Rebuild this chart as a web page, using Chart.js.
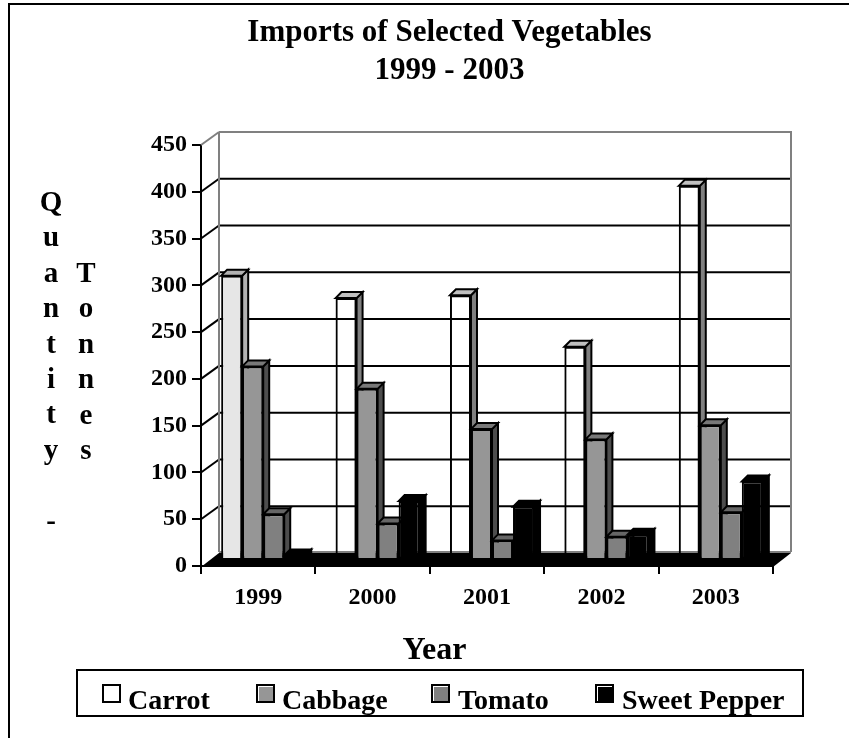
<!DOCTYPE html>
<html>
<head>
<meta charset="utf-8">
<title>Imports of Selected Vegetables</title>
<script src="https://cdn.jsdelivr.net/npm/chart.js@4"></script>
<style>
    html, body { margin: 0; padding: 0; background: #fff; }
    canvas { display: block; }
</style>
</head>
<body>
<canvas id="chart" width="849" height="738"></canvas>
<script>
const years = ['1999', '2000', '2001', '2002', '2003']
const carrot = [305, 281, 284, 229, 401]
const cabbage = [208, 184, 141, 130, 145]
const tomato = [50, 40, 22, 26, 52]
const sweetPepper = [6, 64, 58, 28, 85]

const seriesNames = ['Carrot', 'Cabbage', 'Tomato', 'Sweet Pepper']
const titleLines = ['Imports of Selected Vegetables', '1999 - 2003']
const yTitleLeft = ['Q', 'u', 'a', 'n', 't', 'i', 't', 'y', '', '-']
const yTitleRight = ['T', 'o', 'n', 'n', 'e', 's']
const xTitle = 'Year'

const FONT = '"Liberation Serif", "Times New Roman", serif'

// colours of each series: front, top, side
const faces = [
    {front: 'rgba(0,0,0,0)', top: '#c0c0c0', side: '#808080'},
    {front: '#969696', top: '#787878', side: '#4d4d4d'},
    {front: '#808080', top: '#666666', side: '#4d4d4d'},
    {front: '#000000', top: '#000000', side: '#000000'}
]
const firstCarrot = {front: '#e6e6e6', top: '#b2b2b2', side: '#b2b2b2'}

// depth of the wall behind the plot, and where the bars stand on the floor
const wallX = 18
const wallY = 13
const barShiftX = 5
const barShiftY = -5
const barDepthX = 6
const barDepthY = 6

function poly(ctx, pts, fill, stroke, width) {
    ctx.beginPath()
    pts.forEach((p, i) => i ? ctx.lineTo(p[0], p[1]) : ctx.moveTo(p[0], p[1]))
    ctx.closePath()
    if (fill) {
        ctx.fillStyle = fill
        ctx.fill()
    }
    if (stroke) {
        ctx.strokeStyle = stroke
        ctx.lineWidth = width
        ctx.stroke()
    }
}

function line(ctx, x1, y1, x2, y2, color) {
    ctx.beginPath()
    ctx.moveTo(x1, y1)
    ctx.lineTo(x2, y2)
    ctx.strokeStyle = color
    ctx.lineWidth = 2
    ctx.stroke()
}

function label(ctx, text, x, y, size, align) {
    ctx.font = 'bold ' + size + 'px ' + FONT
    ctx.fillStyle = '#000'
    ctx.textAlign = align
    ctx.textBaseline = 'alphabetic'
    ctx.fillText(text, x, y)
}

// Back wall, floor and grid, all hung on the library's scales
const wallPlugin = {
    id: 'wall',
    beforeDatasetsDraw(chart) {
        const ctx = chart.ctx
        const y = chart.scales.y
        const a = chart.chartArea
        const backLeft = a.left + wallX
        const backRight = a.right + wallX
        const floorBack = a.bottom - wallY - 1

        ctx.save()
        ctx.lineCap = 'butt'
        y.ticks.forEach(t => {
            const py = y.getPixelForValue(t.value)
            if (t.value === 0) return
            const isTop = t.value === y.max
            line(ctx, a.left, py, backLeft, py - wallY, isTop ? '#808080' : '#000')
            line(ctx, backLeft, py - wallY, backRight, py - wallY, isTop ? '#808080' : '#000')
        })
        line(ctx, backLeft, a.top - wallY, backLeft, floorBack, '#808080')
        line(ctx, backRight, a.top - wallY - 1, backRight, floorBack, '#808080')
        line(ctx, backLeft, floorBack, backRight, floorBack, '#808080')
        poly(ctx, [[a.left, a.bottom + 1], [backLeft, floorBack + 1], [backRight, floorBack + 1], [a.right, a.bottom + 1]], '#000')

        // bars go left to right so each one covers the side of the one before
        ctx.translate(barShiftX, barShiftY)
        chart.data.datasets.forEach((ds, i) => {
            chart.getDatasetMeta(i).data.forEach((bar, j) => {
                const f = (i === 0 && j === 0) ? firstCarrot : faces[i]
                const r = bar.x + bar.width / 2
                const l = bar.x - bar.width / 2
                poly(ctx, [[r, bar.y], [r + barDepthX, bar.y - barDepthY], [r + barDepthX, bar.base - barDepthY], [r, bar.base]], f.side, '#000', 2)
                poly(ctx, [[l, bar.y], [l + barDepthX, bar.y - barDepthY], [r + barDepthX, bar.y - barDepthY], [r, bar.y]], f.top, '#000', 2)
                bar.draw(ctx, chart.chartArea)
            })
        })
        ctx.restore()
        return false
    },
    afterDraw(chart) {
        const ctx = chart.ctx
        ctx.save()

        // page frame, only top and left in the original
        ctx.fillStyle = '#000'
        ctx.fillRect(8, 3, 841, 2)
        ctx.fillRect(8, 3, 2, 735)

        label(ctx, titleLines[0], 449.5, 41, 31, 'center')
        label(ctx, titleLines[1], 449.5, 79, 31, 'center')
        label(ctx, xTitle, 434.5, 659, 32, 'center')

        yTitleLeft.forEach((c, i) => label(ctx, c, 51, 211 + i * 35.4, 29, 'center'))
        yTitleRight.forEach((c, i) => label(ctx, c, 86, 282 + i * 35.4, 29, 'center'))

        // legend
        ctx.strokeStyle = '#000'
        ctx.lineWidth = 2
        ctx.strokeRect(77, 670, 726, 46)
        const boxX = [103, 257, 432, 596]
        const textX = [128, 282, 458, 622]
        seriesNames.forEach((name, i) => {
            const fill = i === 0 ? '#fff' : faces[i].front
            ctx.fillStyle = fill
            ctx.fillRect(boxX[i], 685, 17, 17)
            if (i > 0) {
                ctx.fillStyle = '#fff'
                ctx.fillRect(boxX[i] + 1, 686, 15, 1)
                ctx.fillRect(boxX[i] + 1, 686, 1, 15)
            }
            ctx.strokeRect(boxX[i], 685, 17, 17)
            label(ctx, name, textX[i], 709, 28, 'left')
        })
        ctx.restore()
    }
}

function buildChart() {
    const ctx = document.getElementById('chart').getContext('2d')
    const series = [carrot, cabbage, tomato, sweetPepper]

    new Chart(ctx, {
        type: 'bar',
        data: {
            labels: years,
            datasets: series.map((values, i) => ({
                label: seriesNames[i],
                data: values,
                backgroundColor: values.map((_, j) => (i === 0 && j === 0) ? firstCarrot.front : faces[i].front),
                borderColor: '#000',
                borderWidth: 2,
                borderSkipped: false,
                categoryPercentage: 0.735,
                barPercentage: 1
            }))
        },
        options: {
            responsive: false,
            animation: false,
            layout: {
                padding: {left: 100, right: 76, top: 145, bottom: 132}
            },
            plugins: {
                legend: {display: false},
                title: {display: false},
                tooltip: {enabled: false}
            },
            scales: {
                x: {
                    afterFit: scale => { scale.height = 40 },
                    grid: {
                        drawOnChartArea: false,
                        color: '#000',
                        lineWidth: 2,
                        tickLength: 8
                    },
                    border: {color: '#000', width: 2},
                    ticks: {
                        color: '#000',
                        padding: 9,
                        maxRotation: 0,
                        font: {family: FONT, size: 24, weight: 'bold'}
                    }
                },
                y: {
                    min: 0,
                    max: 450,
                    afterFit: scale => { scale.width = 101 },
                    grid: {
                        drawOnChartArea: false,
                        color: '#000',
                        lineWidth: 2,
                        tickLength: 9
                    },
                    border: {color: '#000', width: 2},
                    ticks: {
                        stepSize: 50,
                        color: '#000',
                        padding: 5,
                        font: {family: FONT, size: 24, weight: 'bold'}
                    }
                }
            }
        },
        plugins: [wallPlugin]
    })
}

buildChart()
</script>
</body>
</html>
